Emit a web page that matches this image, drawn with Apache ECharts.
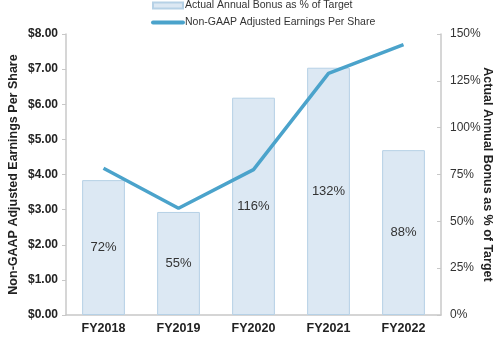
<!DOCTYPE html>
<html>
<head>
<meta charset="utf-8">
<script src="https://cdn.jsdelivr.net/npm/echarts@6/dist/echarts.min.js"></script>
<style>html,body{margin:0;padding:0;background:#fff}#c{width:498px;height:339px}</style>
</head>
<body>
<div id="c"></div>
<script>
const categories = ['FY2018', 'FY2019', 'FY2020', 'FY2021', 'FY2022'];
const bonusPct = [72, 55, 116, 132, 88];
const eps = [4.18, 3.04, 4.14, 6.88, 7.70];
const epsTicks = [0, 1, 2, 3, 4, 5, 6, 7, 8];
const pctTicks = [0, 25, 50, 75, 100, 125, 150];

const chart = echarts.init(document.getElementById('c'));
const font = 'Liberation Sans, Arial, sans-serif';
const axisGray = '#c8c8c8';
chart.setOption({
  animation: false,
  textStyle: { fontFamily: font },
  legend: {
    orient: 'vertical',
    left: 151,
    top: 0,
    padding: 0,
    itemWidth: 30,
    itemHeight: 6,
    itemGap: 6,
    textStyle: { fontFamily: font, fontSize: 10.5, color: '#333', padding: [0, 0, 0, -3] },
    data: [
      { name: 'Actual Annual Bonus as % of Target', icon: 'rect' },
      { name: 'Non-GAAP Adjusted Earnings Per Share', itemStyle: { opacity: 0 },
        lineStyle: { width: 4, cap: 'round', color: '#4ba3cb' } }
    ]
  },
  grid: { left: 66, right: 57, top: 34, bottom: 24, containLabel: false, outerBoundsMode: 'none' },
  xAxis: {
    type: 'category',
    data: categories,
    axisLine: { lineStyle: { color: axisGray, width: 1.5 } },
    axisTick: { show: false },
    axisLabel: { fontFamily: font, fontSize: 12.5, fontWeight: 'bold', color: '#222', margin: 7 }
  },
  yAxis: [
    {
      type: 'value',
      min: epsTicks[0], max: epsTicks[epsTicks.length - 1], interval: 1,
      name: 'Non-GAAP Adjusted Earnings Per Share',
      nameLocation: 'middle',
      nameGap: 46,
      nameMoveOverlap: false,
      nameTextStyle: { fontFamily: font, fontSize: 12.5, fontWeight: 'bold', color: '#222' },
      axisLine: { show: true, lineStyle: { color: axisGray, width: 1.5 } },
      axisTick: { show: true, length: 4, lineStyle: { color: axisGray } },
      splitLine: { show: false },
      axisLabel: { fontFamily: font, fontSize: 12, fontWeight: 'bold', color: '#222', margin: 8,
        formatter: v => '$' + v.toFixed(2) }
    },
    {
      type: 'value',
      min: pctTicks[0], max: pctTicks[pctTicks.length - 1], interval: 25,
      position: 'right',
      name: 'Actual Annual Bonus as % of Target',
      nameLocation: 'middle',
      nameRotate: -90,
      nameGap: 40,
      nameMoveOverlap: false,
      nameTextStyle: { fontFamily: font, fontSize: 12.5, fontWeight: 'bold', color: '#222' },
      axisLine: { show: true, lineStyle: { color: axisGray, width: 1.5 } },
      axisTick: { show: true, inside: true, length: 4, lineStyle: { color: axisGray } },
      splitLine: { show: false },
      axisLabel: { fontFamily: font, fontSize: 12, color: '#333', margin: 9,
        formatter: v => v + '%' }
    }
  ],
  series: [
    {
      name: 'Actual Annual Bonus as % of Target',
      type: 'bar',
      yAxisIndex: 1,
      data: bonusPct,
      barWidth: '57%',
      itemStyle: { color: '#dce8f3', borderColor: '#b6d1e6', borderWidth: 1 },
      label: { show: true, position: 'inside', formatter: '{c}%', fontFamily: font, fontSize: 13, color: '#333' }
    },
    {
      name: 'Non-GAAP Adjusted Earnings Per Share',
      type: 'line',
      yAxisIndex: 0,
      data: eps,
      symbol: 'none',
      lineStyle: { color: '#4ba3cb', width: 3.5 },
      itemStyle: { color: '#4ba3cb' }
    }
  ]
});
</script>
</body>
</html>
